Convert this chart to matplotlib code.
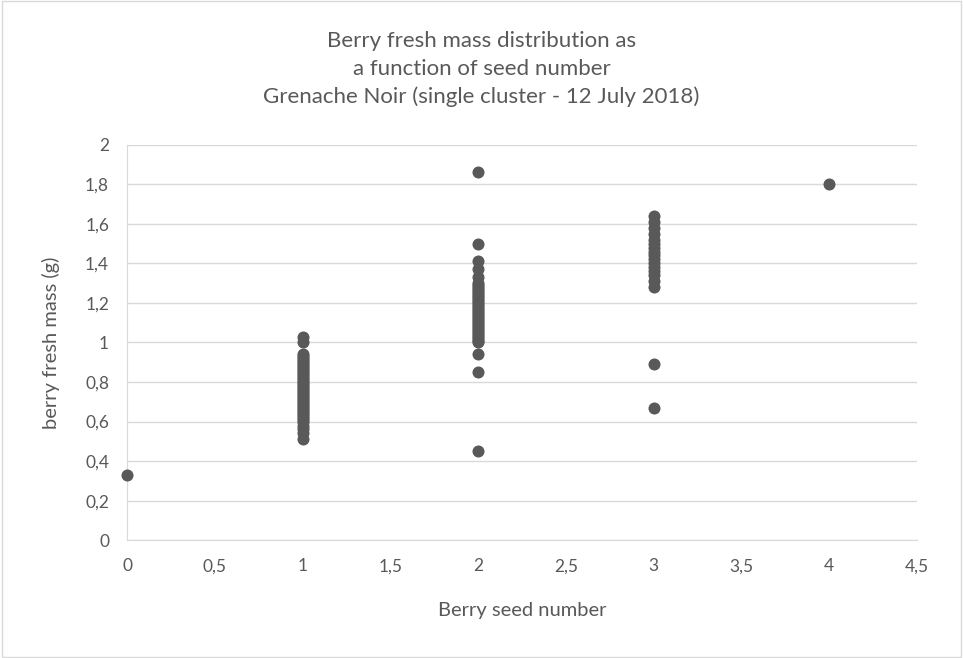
import matplotlib
matplotlib.use("Agg")
import matplotlib.pyplot as plt
from matplotlib.patches import Rectangle

# berry fresh mass (g) per seed number
seed0 = [0.33]
seed1 = [1.03, 1.00, 0.94, 0.93, 0.92, 0.91, 0.90, 0.89, 0.88, 0.87, 0.86, 0.85,
         0.84, 0.83, 0.82, 0.81, 0.80, 0.79, 0.78, 0.77, 0.76, 0.75, 0.74, 0.73,
         0.72, 0.71, 0.70, 0.69, 0.68, 0.67, 0.66, 0.65, 0.64, 0.63, 0.62, 0.61,
         0.60, 0.58, 0.56, 0.54, 0.51]
seed2 = [1.86, 1.50, 1.41, 1.37, 1.33, 1.30, 1.29, 1.28, 1.27, 1.26, 1.25, 1.24,
         1.23, 1.22, 1.21, 1.20, 1.19, 1.18, 1.17, 1.16, 1.15, 1.14, 1.13, 1.12,
         1.11, 1.10, 1.09, 1.08, 1.07, 1.06, 1.05, 1.04, 1.03, 1.02, 1.01, 1.00,
         0.94, 0.85, 0.45]
seed3 = [1.64, 1.61, 1.58, 1.55, 1.52, 1.50, 1.48, 1.46, 1.44, 1.42, 1.40, 1.38,
         1.36, 1.34, 1.31, 1.28, 0.89, 0.67]
seed4 = [1.80]

groups = {0: seed0, 1: seed1, 2: seed2, 3: seed3, 4: seed4}

xticks = [0, 0.5, 1, 1.5, 2, 2.5, 3, 3.5, 4, 4.5]
yticks = [0, 0.2, 0.4, 0.6, 0.8, 1, 1.2, 1.4, 1.6, 1.8, 2]

plt.rcParams['font.family'] = ['Lato', 'DejaVu Sans']
grey = '#595959'

fig = plt.figure(figsize=(9.63, 6.58), dpi=100)
fig.patches.append(Rectangle((0.002, 0.002), 0.996, 0.996, transform=fig.transFigure,
                             fill=False, edgecolor='#d9d9d9', linewidth=1))
ax = fig.add_axes([0.132, 0.179, 0.820, 0.601])

for seeds, masses in groups.items():
    ax.scatter([seeds] * len(masses), masses, s=75, color=grey, zorder=3,
               linewidths=0, clip_on=False)

ax.set_xlim(0, 4.5)
ax.set_ylim(0, 2)
ax.set_xticks(xticks)
ax.set_yticks(yticks)
ax.set_xticklabels([('%g' % v).replace('.', ',') for v in xticks])
ax.set_yticklabels([('%g' % v).replace('.', ',') for v in yticks])
ax.tick_params(length=0, labelsize=12.5, colors=grey, pad=13)
ax.grid(axis='y', color='#d9d9d9', linewidth=1)
ax.set_axisbelow(True)
for side in ['top', 'right']:
    ax.spines[side].set_visible(False)
for side in ['left', 'bottom']:
    ax.spines[side].set_color('#d9d9d9')

ax.set_xlabel('Berry seed number', fontsize=14.5, color=grey, labelpad=20)
ax.set_ylabel('berry fresh mass (g)', fontsize=14.5, color=grey, labelpad=18)
fig.text(0.5, 0.895, 'Berry fresh mass distribution as\na function of seed number\n'
         'Grenache Noir (single cluster - 12 July 2018)',
         ha='center', va='center', fontsize=16, color=grey, linespacing=1.45)

fig.savefig('out.png', dpi=100)
